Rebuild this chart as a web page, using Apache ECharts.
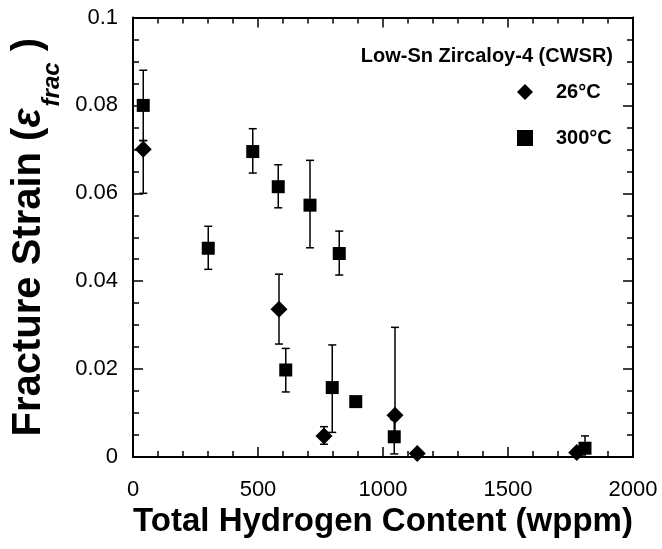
<!DOCTYPE html>
<html>
<head>
<meta charset="utf-8">
<script src="https://cdn.jsdelivr.net/npm/echarts@6/dist/echarts.min.js"></script>
<style>
  html, body { margin: 0; padding: 0; background: #fff; }
  #chart { width: 662px; height: 549px; }
</style>
</head>
<body>
<div id="chart"></div>
<script>
// 26°C data: hydrogen (wppm), fracture strain, error bar low / high
var h26 = [41, 584, 764, 1048, 1137, 1775];
var s26 = [0.070, 0.0336, 0.0048, 0.0095, 0.0008, 0.001];
var lo26 = [0.060, 0.0257, 0.0029, 0.0045, null, null];
var hi26 = [0.072, 0.0416, 0.0069, 0.0295, null, null];

// 300°C data
var h300 = [41, 301, 479, 581, 611, 708, 797, 825, 891, 1045, 1808];
var s300 = [0.080, 0.0475, 0.0695, 0.0615, 0.0198, 0.0573, 0.0158, 0.0463, 0.0126, 0.0046, 0.002];
var lo300 = [0.072, 0.0427, 0.0646, 0.0567, 0.0148, 0.0476, 0.0056, 0.0414, null, 0.0007, 0.0];
var hi300 = [0.088, 0.0525, 0.0747, 0.0665, 0.0247, 0.0675, 0.0255, 0.0514, null, 0.0085, 0.0048];

var seriesNames = ['26°C', '300°C'];
var xTicks = { min: 0, max: 2000, interval: 500 };
var yTicks = { min: 0, max: 0.1, interval: 0.02 };

var FONT = "'Liberation Sans', Arial, sans-serif";

function points(xs, ys) {
  return xs.map(function (x, i) { return [x, ys[i]]; });
}
function bars(xs, lo, hi) {
  var out = [];
  xs.forEach(function (x, i) {
    if (lo[i] != null && hi[i] != null) out.push([x, lo[i], hi[i]]);
  });
  return out;
}

function renderErr(params, api) {
  var x = api.value(0);
  var pLo = api.coord([x, api.value(1)]);
  var pHi = api.coord([x, api.value(2)]);
  var cap = 4;
  var st = { stroke: '#000', lineWidth: 1.5 };
  return {
    type: 'group',
    children: [
      { type: 'line', shape: { x1: pLo[0], y1: pLo[1], x2: pHi[0], y2: pHi[1] }, style: st },
      { type: 'line', shape: { x1: pLo[0] - cap, y1: pLo[1], x2: pLo[0] + cap, y2: pLo[1] }, style: st },
      { type: 'line', shape: { x1: pHi[0] - cap, y1: pHi[1], x2: pHi[0] + cap, y2: pHi[1] }, style: st }
    ]
  };
}

var axisLine = { show: true, onZero: false, lineStyle: { color: '#000', width: 2 } };
var tick = { show: true, inside: true, length: 10, lineStyle: { color: '#000', width: 1.5 } };
var minorStyle = { color: '#000', width: 1.5 };

var chart = echarts.init(document.getElementById('chart'));
chart.setOption({
  backgroundColor: '#fff',
  animation: false,
  title: {
    text: 'Low-Sn Zircaloy-4 (CWSR)',
    right: 44,
    top: 41,
    textStyle: { fontFamily: FONT, fontSize: 20, fontWeight: 'bold', color: '#000' }
  },
  legend: {
    data: seriesNames,
    orient: 'vertical',
    left: 512,
    top: 77,
    itemWidth: 16,
    itemHeight: 16,
    itemGap: 26,
    textStyle: { fontFamily: FONT, fontSize: 20, fontWeight: 'bold', color: '#000', padding: [0, 0, 0, 18] }
  },
  grid: { left: 133, right: 29, top: 17.5, bottom: 92 },
  xAxis: [{
    type: 'value',
    min: xTicks.min, max: xTicks.max, interval: xTicks.interval,
    axisLine: axisLine,
    axisTick: tick,
    minorTick: { show: true, splitNumber: 5, length: 6, lineStyle: minorStyle },
    splitLine: { show: false },
    axisLabel: {
      fontFamily: FONT, fontSize: 22, color: '#000', margin: 22,
      formatter: function (v) { return String(v); }
    },
    name: 'Total Hydrogen Content (wppm)',
    nameLocation: 'middle',
    nameGap: 42,
    nameTextStyle: { fontFamily: FONT, fontSize: 33, fontWeight: 'bold', color: '#000' }
  }, {
    type: 'value', position: 'top',
    min: xTicks.min, max: xTicks.max, interval: xTicks.interval,
    axisLine: axisLine,
    axisTick: tick,
    minorTick: { show: true, splitNumber: 5, length: 6, lineStyle: minorStyle },
    splitLine: { show: false },
    axisLabel: { show: false }
  }],
  yAxis: [{
    type: 'value',
    min: yTicks.min, max: yTicks.max, interval: yTicks.interval,
    axisLine: axisLine,
    axisTick: tick,
    minorTick: { show: true, splitNumber: 4, length: 6, lineStyle: minorStyle },
    splitLine: { show: false },
    axisLabel: { fontFamily: FONT, fontSize: 22, color: '#000', margin: 15 },
    name: '{m|Fracture Strain (}{e|ε}{s|frac}{m| )}',
    nameLocation: 'middle',
    nameGap: 72,
    nameTextStyle: {
      fontFamily: FONT, color: '#000',
      rich: {
        m: { fontFamily: FONT, fontSize: 40, fontWeight: 'bold', color: '#000', lineHeight: 46, verticalAlign: 'top' },
        e: { fontFamily: FONT, fontSize: 40, fontWeight: 'bold', fontStyle: 'italic', color: '#000', lineHeight: 46, verticalAlign: 'top' },
        s: { fontFamily: FONT, fontSize: 24, fontWeight: 'bold', fontStyle: 'italic', color: '#000', lineHeight: 26, verticalAlign: 'top', padding: [31, 0, 0, 2] }
      }
    }
  }, {
    type: 'value', position: 'right',
    min: yTicks.min, max: yTicks.max, interval: yTicks.interval,
    axisLine: axisLine,
    axisTick: tick,
    minorTick: { show: true, splitNumber: 4, length: 6, lineStyle: minorStyle },
    splitLine: { show: false },
    axisLabel: { show: false }
  }],
  series: [{
    name: 'err26',
    type: 'custom',
    renderItem: renderErr,
    data: bars(h26, lo26, hi26),
    z: 1
  }, {
    name: 'err300',
    type: 'custom',
    renderItem: renderErr,
    data: bars(h300, lo300, hi300),
    z: 1
  }, {
    name: seriesNames[0],
    type: 'scatter',
    symbol: 'diamond',
    symbolSize: 17,
    itemStyle: { color: '#000', opacity: 1 },
    data: points(h26, s26),
    z: 3
  }, {
    name: seriesNames[1],
    type: 'scatter',
    symbol: 'rect',
    symbolSize: 13,
    itemStyle: { color: '#000', opacity: 1 },
    data: points(h300, s300),
    z: 3
  }]
});
</script>
</body>
</html>
